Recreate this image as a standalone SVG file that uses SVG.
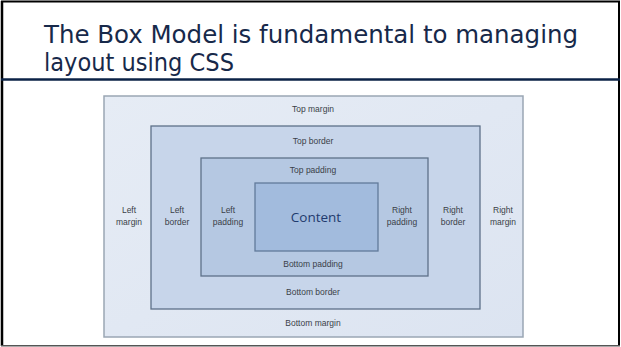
<svg xmlns="http://www.w3.org/2000/svg" width="621" height="347" viewBox="0 0 621 347">
<defs>
<style>
.title{font-family:"DejaVu Sans Condensed","DejaVu Sans",sans-serif;font-stretch:condensed;font-size:24px;fill:#17294A}
.lbl{font-family:"Liberation Sans",Arial,sans-serif;font-size:8.5px;fill:#3A3F48;text-anchor:middle}
.content{font-family:"Open Sans","Liberation Sans",sans-serif;font-size:13.5px;fill:#1F3A6E;text-anchor:middle}
</style>
<linearGradient id="gm" x1="0" y1="0" x2="1" y2="1">
<stop offset="0" stop-color="#E6ECF5"/><stop offset="1" stop-color="#DCE4F1"/>
</linearGradient>
</defs>
<rect x="0" y="0" width="621" height="347" fill="#FFFFFF"/>
<g id="frame">
<line x1="1" y1="1.5" x2="620" y2="1.5" stroke="#000" stroke-width="2"/>
<line x1="2" y1="1" x2="2" y2="346" stroke="#000" stroke-width="2.5"/>
<line x1="619" y1="1" x2="619" y2="346" stroke="#000" stroke-width="2"/>
<line x1="1" y1="345.8" x2="620" y2="345.8" stroke="#555" stroke-width="1.5"/>
<line x1="1" y1="79.5" x2="620" y2="79.5" stroke="#0B2246" stroke-width="2.5"/>
</g>
<g id="title">
<text class="title" x="44" y="42.5" textLength="534" lengthAdjust="spacingAndGlyphs">The Box Model is fundamental to managing</text>
<text class="title" x="44" y="71" textLength="190" lengthAdjust="spacingAndGlyphs">layout using CSS</text>
</g>
<g id="margin-box">
<rect x="104" y="96" width="419" height="241" fill="url(#gm)" stroke="#9AA6B4" stroke-width="1.5"/>
<text class="lbl" x="313" y="112">Top margin</text>
<text class="lbl" x="313" y="326">Bottom margin</text>
<text class="lbl" x="129" y="213">Left</text>
<text class="lbl" x="129" y="225">margin</text>
<text class="lbl" x="503" y="213">Right</text>
<text class="lbl" x="503" y="225">margin</text>
</g>
<g id="border-box">
<rect x="151" y="126" width="329" height="183" fill="#C7D5EA" stroke="#5E7189" stroke-width="1.3"/>
<text class="lbl" x="313" y="144">Top border</text>
<text class="lbl" x="313" y="295">Bottom border</text>
<text class="lbl" x="177" y="213">Left</text>
<text class="lbl" x="177" y="225">border</text>
<text class="lbl" x="453" y="213">Right</text>
<text class="lbl" x="453" y="225">border</text>
</g>
<g id="padding-box">
<rect x="201" y="158" width="227" height="118" fill="#B5C8E2" stroke="#5E7189" stroke-width="1.3"/>
<text class="lbl" x="313" y="173">Top padding</text>
<text class="lbl" x="313" y="267">Bottom padding</text>
<text class="lbl" x="228" y="213">Left</text>
<text class="lbl" x="228" y="225">padding</text>
<text class="lbl" x="402" y="213">Right</text>
<text class="lbl" x="402" y="225">padding</text>
</g>
<g id="content-box">
<rect x="255" y="183" width="123" height="68" fill="#A2BBDD" stroke="#627A9A" stroke-width="1.3"/>
<text class="content" x="316" y="222">Content</text>
</g>
</svg>
